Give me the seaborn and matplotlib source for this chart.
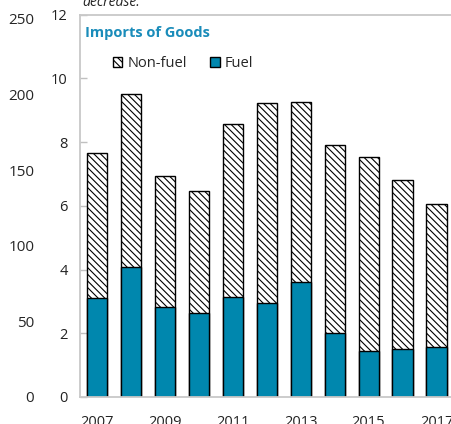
import numpy as np
import pandas as pd
import matplotlib
matplotlib.use("Agg")
import matplotlib.pyplot as plt
import seaborn as sns
from matplotlib.patches import Patch

years = [2007, 2008, 2009, 2010, 2011, 2012, 2013, 2014, 2015, 2016, 2017]
fuel = [3.11, 4.07, 2.82, 2.64, 3.15, 2.94, 3.60, 2.02, 1.43, 1.50, 1.58]
total = [7.65, 9.50, 6.94, 6.47, 8.56, 9.21, 9.25, 7.90, 7.53, 6.82, 6.07]
nonfuel = [t - f for t, f in zip(total, fuel)]
inner_ticks = [0, 2, 4, 6, 8, 10, 12]
outer_ticks = [0, 50, 100, 150, 200, 250]
xlabels = ["2007", "", "2009", "", "2011", "", "2013", "", "2015", "", "2017"]

sns.set_theme(style="white")
plt.rcParams['font.family'] = ['Open Sans', 'DejaVu Sans']
plt.rcParams['hatch.linewidth'] = 0.8
plt.rcParams['hatch.color'] = '#404040'

df = pd.DataFrame({"year": [str(y) for y in years], "fuel": fuel,
                   "total": total, "nonfuel": nonfuel})

fig = plt.figure(figsize=(4.51, 4.24), dpi=100)
ax = fig.add_axes([80/451, 1 - 397/424, (453.5 - 80)/451, (397 - 14.5)/424])

blue = "#0087AE"
hatch = "\\\\\\\\\\"
sns.barplot(data=df, x="year", y="total", ax=ax, color="white", width=0.59,
            edgecolor="black", linewidth=1.0, hatch=hatch, saturation=1)
sns.barplot(data=df, x="year", y="fuel", ax=ax, color=blue, width=0.59,
            edgecolor="black", linewidth=1.0, saturation=1)

ax.set_xlim(-0.49, 10.5)
ax.set_ylim(0, 12)
ax.set_yticks(inner_ticks)
ax.set_yticklabels([str(t) for t in inner_ticks], fontsize=10.5, color="#222222")
ax.set_xticks(range(len(years)))
ax.set_xticklabels(xlabels, fontsize=10.5, color="#222222")
ax.set_xticks(np.arange(0.5, 10.5, 2), minor=True)
ax.tick_params(axis="x", which="major", length=0, pad=13)
ax.tick_params(axis="x", which="minor", length=4, direction="in", color="#c0c0c0", width=1)
ax.tick_params(axis="y", length=5, direction="in", color="#c0c0c0", width=1, pad=9)
ax.set_xlabel("")
ax.set_ylabel("")
for s in ["left", "top", "bottom", "right"]:
    ax.spines[s].set_visible(True)
    ax.spines[s].set_color("#c8c8c8")
    ax.spines[s].set_linewidth(1.3)

ax2 = ax.twinx()
ax2.set_ylim(0, 252.8)
ax2.set_yticks(outer_ticks)
ax2.set_yticklabels([str(t) for t in outer_ticks], fontsize=10.5, color="#222222")
ax2.yaxis.set_ticks_position("left")
ax2.spines["left"].set_position(("outward", 33))
for s in ["left", "top", "bottom", "right"]:
    ax2.spines[s].set_visible(False)
ax2.tick_params(axis="y", length=0, pad=0)

ax.text(0.014, 0.952, "Imports of Goods", transform=ax.transAxes, fontsize=10.5,
        fontweight="bold", color="#1A8CBA", va="center", ha="left")

handles = [Patch(facecolor="white", edgecolor="black", hatch=hatch, label="Non-fuel"),
           Patch(facecolor=blue, edgecolor="black", label="Fuel")]
ax.legend(handles=handles, loc="center left", bbox_to_anchor=(0.088, 0.872), ncol=2,
          frameon=False, fontsize=10.5, handlelength=0.65, handleheight=0.65,
          handletextpad=0.35, columnspacing=1.6, borderaxespad=0, borderpad=0)

fig.text(82/451, 1 - 6/424, "decrease.", fontsize=10, style="italic", color="#222222",
         ha="left", va="baseline")

fig.savefig("out.png", dpi=100)
